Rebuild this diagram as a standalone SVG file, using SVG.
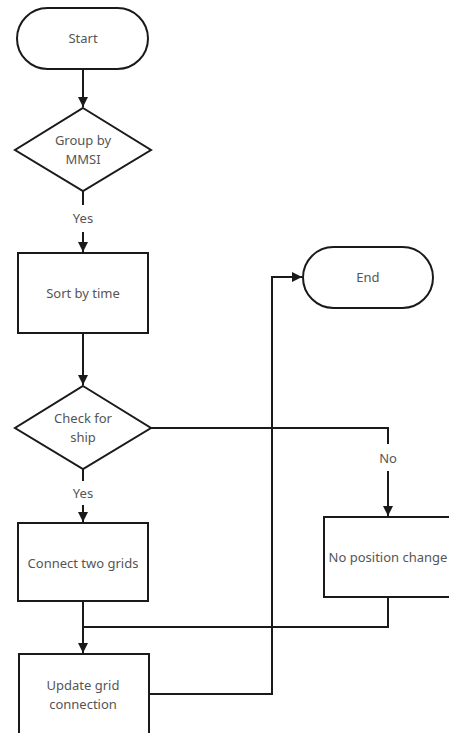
<svg xmlns="http://www.w3.org/2000/svg" width="449" height="733" viewBox="0 0 449 733">
<style>
.shape{fill:#fff;stroke:#1a1a1a;stroke-width:2}
.ln{fill:none;stroke:#1a1a1a;stroke-width:2}
text{font-family:"Noto Sans","Open Sans",sans-serif;font-size:13px;fill:#555;text-anchor:middle;dominant-baseline:central}
</style>
<defs>
<marker id="arr" viewBox="0 0 10 10" refX="10" refY="5" markerWidth="5" markerHeight="5" orient="auto" markerUnits="strokeWidth">
<path d="M0,0 L10,5 L0,10 z" fill="#1a1a1a"/>
</marker>
</defs>
<rect width="449" height="733" fill="#fff"/>
<g id="connectors">
<line class="ln" x1="83" y1="69" x2="83" y2="107" marker-end="url(#arr)"/>
<line class="ln" x1="83" y1="191" x2="83" y2="205"/>
<line class="ln" x1="83" y1="232" x2="83" y2="252" marker-end="url(#arr)"/>
<line class="ln" x1="83" y1="333" x2="83" y2="385" marker-end="url(#arr)"/>
<line class="ln" x1="83" y1="469" x2="83" y2="481"/>
<line class="ln" x1="83" y1="505" x2="83" y2="522" marker-end="url(#arr)"/>
<line class="ln" x1="83" y1="601" x2="83" y2="653" marker-end="url(#arr)"/>
<polyline class="ln" points="151,428 388,428 388,444"/>
<line class="ln" x1="388" y1="471" x2="388" y2="516" marker-end="url(#arr)"/>
<polyline class="ln" points="388,597 388,627 83,627"/>
<polyline class="ln" points="149,694 272,694 272,277 302,277" marker-end="url(#arr)"/>
<text x="83" y="218">Yes</text>
<text x="83" y="493">Yes</text>
<text x="388" y="458">No</text>
</g>
<g id="start">
<rect class="shape" x="17" y="8" width="131" height="61" rx="30.5"/>
<text x="83" y="38">Start</text>
</g>
<g id="group">
<polygon class="shape" points="83,108 151,150 83,191 15,150"/>
<text x="83" y="140">Group by</text>
<text x="83" y="159">MMSI</text>
</g>
<g id="sort">
<rect class="shape" x="18" y="253" width="130" height="80"/>
<text x="83" y="293">Sort by time</text>
</g>
<g id="check">
<polygon class="shape" points="83,386 151,428 83,469 15,428"/>
<text x="83" y="418">Check for</text>
<text x="83" y="437">ship</text>
</g>
<g id="connect">
<rect class="shape" x="18" y="523" width="130" height="78"/>
<text x="83" y="563">Connect two grids</text>
</g>
<g id="update">
<rect class="shape" x="19" y="654" width="130" height="84"/>
<text x="83" y="685">Update grid</text>
<text x="83" y="704">connection</text>
</g>
<g id="end">
<rect class="shape" x="303" y="247" width="130" height="61" rx="30.5"/>
<text x="368" y="277">End</text>
</g>
<g id="nochange">
<rect class="shape" x="324" y="517" width="130" height="80"/>
<text x="388" y="557">No position change</text>
</g>
</svg>
